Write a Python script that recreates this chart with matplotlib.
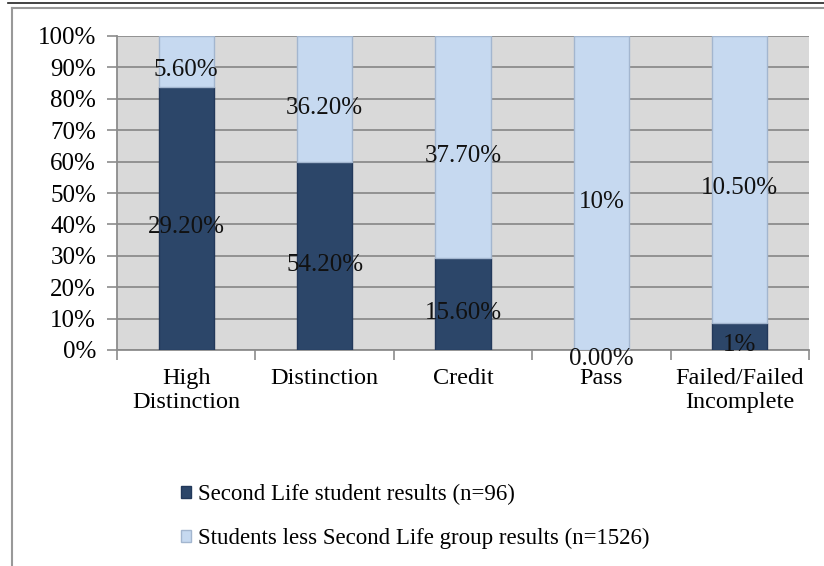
import numpy as np
import matplotlib
matplotlib.use('Agg')
import matplotlib.pyplot as plt
from matplotlib.lines import Line2D

categories = ['High\nDistinction', 'Distinction', 'Credit', 'Pass', 'Failed/Failed\nIncomplete']
second_life = [29.2, 54.2, 15.6, 0.0, 1.0]
others = [5.6, 36.2, 37.7, 10.0, 10.5]
sl_labels = ['29.20%', '54.20%', '15.60%', '0.00%', '1%']
ot_labels = ['5.60%', '36.20%', '37.70%', '10%', '10.50%']
series_names = ['Second Life student results (n=96)',
                'Students less Second Life group results (n=1526)']

plt.rcParams['font.family'] = ['Liberation Serif', 'DejaVu Serif']

dark = '#2c4669'
light = '#c6d9f0'

fig = plt.figure(figsize=(8.24, 5.66), dpi=100)
ax = fig.add_axes([117/824, 1-350/566, (809-117)/824, (350-36)/566])

sl = np.array(second_life)
ot = np.array(others)
tot = sl + ot
sl_pct = sl / tot * 100   # 100% stacked
ot_pct = ot / tot * 100
x = np.arange(len(categories))

b1 = ax.bar(x, sl_pct, width=0.4, color=dark, edgecolor='#22385a', linewidth=1, zorder=3,
            label=series_names[0])
b2 = ax.bar(x, ot_pct, width=0.4, bottom=sl_pct, color=light, edgecolor='#a3b6cf', linewidth=1,
            zorder=3, label=series_names[1])

lab1 = ax.bar_label(b1, labels=sl_labels, label_type='center', fontsize=18, color='#111111', zorder=5)
lab2 = ax.bar_label(b2, labels=ot_labels, label_type='center', fontsize=18, color='#111111', zorder=5)
for a in list(lab1) + list(lab2):
    a.xyann = (0, -6.5)

ax.set_xlim(-0.5, len(categories) - 0.5)
ax.set_ylim(0, 100)
ax.set_facecolor('#d9d9d9')
ax.set_yticks(np.arange(0, 101, 10))
ax.set_yticklabels([f'{v}%' for v in range(0, 101, 10)], fontsize=18)
ax.yaxis.grid(True, color='#8c8c8c', linewidth=1.3, zorder=0)
ax.set_axisbelow(True)

ax.set_xticks(x)
ax.set_xticklabels(categories, fontsize=17.5, linespacing=1.2)
ax.tick_params(axis='x', length=0, pad=13)
ax.set_xticks(np.arange(-0.5, len(categories), 1), minor=True)
ax.tick_params(axis='x', which='minor', length=7, color='#8c8c8c', width=1.2)
ax.tick_params(axis='y', length=7, color='#8c8c8c', width=1.2, pad=8)

for s in ['top', 'right']:
    ax.spines[s].set_visible(False)
ax.spines['left'].set_color('#8c8c8c')
ax.spines['bottom'].set_color('#8c8c8c')
ax.spines['left'].set_linewidth(1.3)
ax.spines['bottom'].set_linewidth(1.3)

fig.legend(handles=[b1, b2], loc='upper left', bbox_to_anchor=(181/824, 1-484/566),
           frameon=False, fontsize=16.5, handlelength=0.42, handleheight=0.42,
           handletextpad=0.3, labelspacing=1.0, borderaxespad=0, borderpad=0)

# outer frame like the source page
fig.add_artist(Line2D([8/824, 1], [1-3/566, 1-3/566], color='#222222', linewidth=1.2))
fig.add_artist(Line2D([12/824, 1], [1-8/566, 1-8/566], color='#999999', linewidth=1.5))
fig.add_artist(Line2D([12/824, 12/824], [0, 1-8/566], color='#999999', linewidth=1.5))

fig.savefig('out.png', dpi=100)
